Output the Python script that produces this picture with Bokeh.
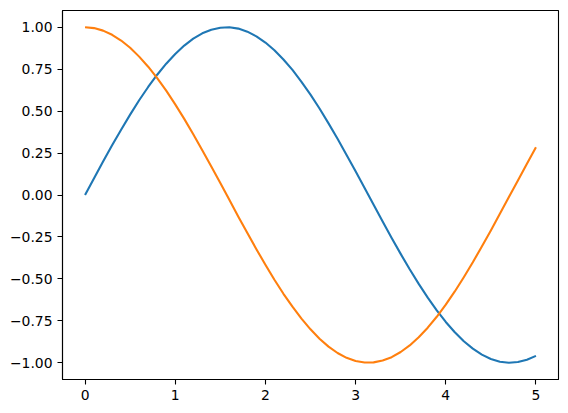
from bokeh.plotting import figure
from bokeh.models import FixedTicker, Range1d
from bokeh.embed import file_html
from bokeh.resources import INLINE

x_vals = [0.0, 0.1, 0.2, 0.3, 0.4, 0.5, 0.6, 0.7, 0.8, 0.9,
          1.0, 1.1, 1.2, 1.3, 1.4, 1.5, 1.6, 1.7, 1.8, 1.9,
          2.0, 2.1, 2.2, 2.3, 2.4, 2.5, 2.6, 2.7, 2.8, 2.9,
          3.0, 3.1, 3.2, 3.3, 3.4, 3.5, 3.6, 3.7, 3.8, 3.9,
          4.0, 4.1, 4.2, 4.3, 4.4, 4.5, 4.6, 4.7, 4.8, 4.9, 5.0]

blue_series = [0.000, 0.100, 0.199, 0.296, 0.389, 0.479, 0.565, 0.644, 0.717, 0.783,
               0.841, 0.891, 0.932, 0.964, 0.985, 0.997, 1.000, 0.992, 0.974, 0.946,
               0.909, 0.863, 0.808, 0.746, 0.675, 0.598, 0.516, 0.427, 0.335, 0.239,
               0.141, 0.042, -0.058, -0.158, -0.256, -0.351, -0.443, -0.530, -0.612, -0.688,
               -0.757, -0.818, -0.872, -0.916, -0.952, -0.978, -0.994, -1.000, -0.996, -0.982,
               -0.959]

orange_series = [1.000, 0.995, 0.980, 0.955, 0.921, 0.878, 0.825, 0.765, 0.697, 0.622,
                 0.540, 0.454, 0.362, 0.267, 0.170, 0.071, -0.029, -0.129, -0.227, -0.323,
                 -0.416, -0.505, -0.589, -0.666, -0.737, -0.801, -0.857, -0.904, -0.942, -0.971,
                 -0.990, -0.999, -0.998, -0.987, -0.967, -0.936, -0.897, -0.848, -0.791, -0.726,
                 -0.654, -0.575, -0.490, -0.401, -0.307, -0.211, -0.112, -0.012, 0.087, 0.187,
                 0.284]

x_ticks = [0, 1, 2, 3, 4, 5]
x_tick_labels = ["0", "1", "2", "3", "4", "5"]
y_ticks = [-1.0, -0.75, -0.5, -0.25, 0.0, 0.25, 0.5, 0.75, 1.0]
y_tick_labels = ["\u22121.00", "\u22120.75", "\u22120.50", "\u22120.25", "0.00",
                 "0.25", "0.50", "0.75", "1.00"]

p = figure(width=568, height=413, output_backend="svg", toolbar_location=None,
           x_range=Range1d(-0.25, 5.25), y_range=Range1d(-1.1, 1.1),
           min_border_left=62, min_border_right=10, min_border_top=10, min_border_bottom=34)

p.line(x_vals, blue_series, line_color="#1f77b4", line_width=2.1, line_join="round")
p.line(x_vals, orange_series, line_color="#ff7f0e", line_width=2.1, line_join="round")

p.xgrid.visible = False
p.ygrid.visible = False
p.outline_line_color = "black"
p.outline_line_width = 1.1
p.outline_line_alpha = 1.0
p.background_fill_color = "white"
p.border_fill_color = "white"

p.xaxis.ticker = FixedTicker(ticks=x_ticks)
p.xaxis.major_label_overrides = {t: l for t, l in zip(x_ticks, x_tick_labels)}
p.yaxis.ticker = FixedTicker(ticks=y_ticks)
p.yaxis.major_label_overrides = {t: l for t, l in zip(y_ticks, y_tick_labels)}

for ax in (p.xaxis[0], p.yaxis[0]):
    ax.axis_line_color = "black"
    ax.axis_line_width = 1.1
    ax.major_tick_line_color = "black"
    ax.major_tick_line_width = 1.1
    ax.major_tick_in = 0
    ax.major_tick_out = 5
    ax.minor_tick_line_color = None
    ax.major_label_text_font = "DejaVu Sans"
    ax.major_label_text_font_size = "13.9px"
    ax.major_label_text_color = "black"
    ax.major_label_standoff = 5

open("out.html", "w").write(file_html(p, INLINE))
